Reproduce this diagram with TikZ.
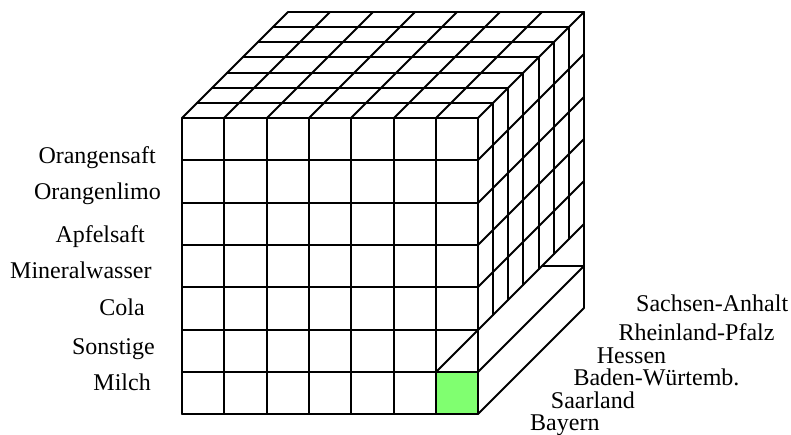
\documentclass[tikz,border=0pt]{standalone}
\usepackage{fontspec}
\setmainfont{Liberation Serif}
\begin{document}
\begin{tikzpicture}[x=1pt,y=-1pt,
  gridline/.style={line width=1.8pt,line cap=round,line join=round},
  lab/.style={font=\fontsize{24}{28}\selectfont,inner sep=0pt},
  llab/.style={lab,anchor=base east},
  rlab/.style={lab,anchor=base west}]
\useasboundingbox (0,0) rectangle (791,434);
\def\xo{182}\def\yo{118}\def\s{42.3}\def\d{15.14}
% green cell
\fill[fill={rgb,255:red,128;green,255;blue,112}] ({round(\xo+6*\s)},{round(\yo+6*\s)}) rectangle ({round(\xo+7*\s)},{round(\yo+7*\s)});
% front face
\foreach \i in {0,...,7}{
  \draw[gridline] ({round(\xo+\i*\s)},{\yo}) -- ({round(\xo+\i*\s)},{round(\yo+7*\s)});
  \draw[gridline] ({\xo},{round(\yo+\i*\s)}) -- ({round(\xo+7*\s)},{round(\yo+\i*\s)});
  % top face receding lines
  \draw[gridline] ({round(\xo+\i*\s)},{\yo}) -- ({round(\xo+\i*\s)+round(7*\d)},{\yo-round(7*\d)});
}
% top face horizontal lines
\foreach \k in {1,...,7}{
  \draw[gridline] ({\xo+round(\k*\d)},{\yo-round(\k*\d)}) -- ({round(\xo+7*\s)+round(\k*\d)},{\yo-round(\k*\d)});
}
% right face row lines
\foreach \r in {1,...,4}{
  \draw[gridline] ({round(\xo+7*\s)},{round(\yo+\r*\s)}) -- ({round(\xo+7*\s)+round(7*\d)},{round(\yo+\r*\s)-round(7*\d)});
}
% right face verticals
\foreach \k in {1,...,6}{
  \draw[gridline] ({round(\xo+7*\s)+round(\k*\d)},{\yo-round(\k*\d)}) -- ({round(\xo+7*\s)+round(\k*\d)},{round(\yo+5*\s)-round(\k*\d)});
}
\draw[gridline] ({round(\xo+7*\s)+round(7*\d)},{\yo-round(7*\d)}) -- ({round(\xo+7*\s)+round(7*\d)},{round(\yo+7*\s)-round(7*\d)});
% long diagonal
\draw[gridline] ({round(\xo+6*\s)},{round(\yo+6*\s)}) -- ({round(\xo+7*\s)+round(7*\d)},{round(\yo+5*\s)-round(7*\d)});
% bar
\draw[gridline] ({round(\xo+7*\s)},{round(\yo+6*\s)}) -- ({round(\xo+7*\s)+round(7*\d)},{round(\yo+6*\s)-round(7*\d)});
\draw[gridline] ({round(\xo+7*\s)},{round(\yo+7*\s)}) -- ({round(\xo+7*\s)+round(7*\d)},{round(\yo+7*\s)-round(7*\d)});
\draw[gridline] ({round(\xo+6*\s)+round(7*\d)},{round(\yo+6*\s)-round(7*\d)}) -- ({round(\xo+7*\s)+round(7*\d)},{round(\yo+6*\s)-round(7*\d)});
% left labels
\node[llab] (l1) at (156,163) {Orangensaft};
\node[llab] (l2) at (161,199.3) {Orangenlimo};
\node[llab] (l3) at (145,242.7) {Apfelsaft};
\node[llab] (l4) at (151.7,278.3) {Mineralwasser};
\node[llab] (l5) at (145,315) {Cola};
\node[llab] (l6) at (155,354.3) {Sonstige};
\node[llab] (l7) at (151,390.7) {Milch};
% right labels
\node[rlab] (r1) at (636,311.7) {Sachsen-Anhalt};
\node[rlab] (r2) at (618.3,340) {Rheinland-Pfalz};
\node[rlab] (r3) at (596.7,363.3) {Hessen};
\node[rlab] (r4) at (573.3,385) {Baden-Würtemb.};
\node[rlab] (r5) at (550.7,408.3) {Saarland};
\node[rlab] (r6) at (530,430) {Bayern};
\end{tikzpicture}
\end{document}
